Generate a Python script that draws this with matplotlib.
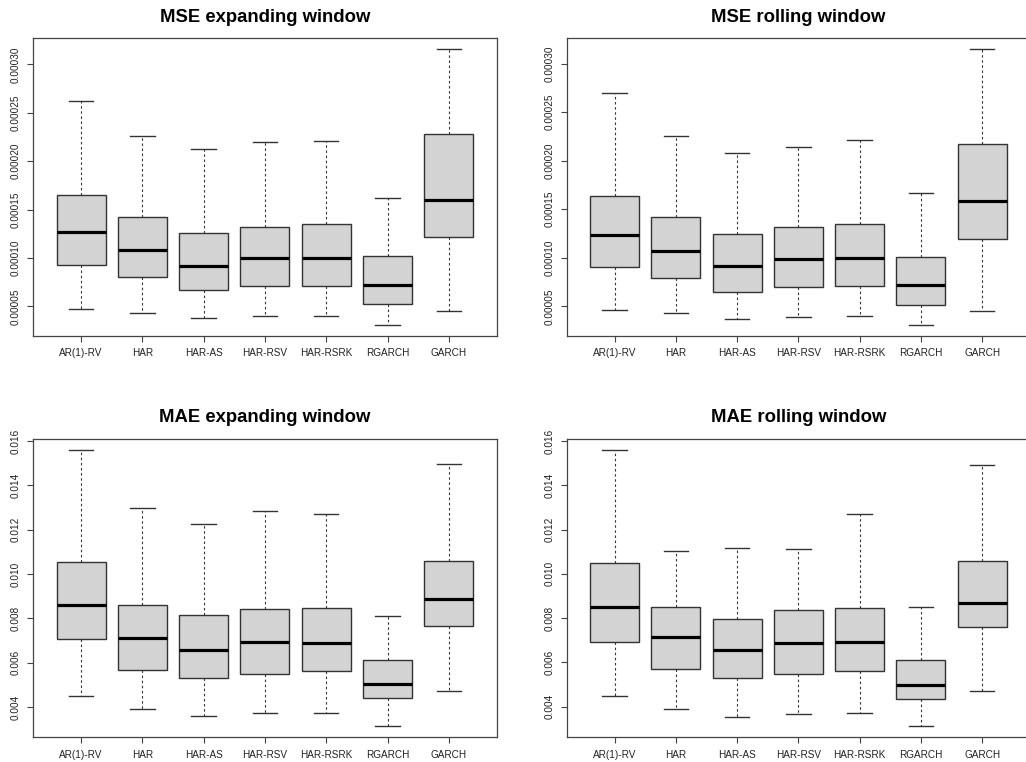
import matplotlib
matplotlib.use("Agg")
import matplotlib.pyplot as plt

plt.rcParams["font.family"] = ["Liberation Sans", "DejaVu Sans"]

models = ["AR(1)-RV", "HAR", "HAR-AS", "HAR-RSV", "HAR-RSRK", "RGARCH", "GARCH"]

# Box statistics per model: lower whisker, Q1, median, Q3, upper whisker
mse_exp_lo  = [0.0000469, 0.0000431, 0.0000380, 0.0000400, 0.0000400, 0.0000307, 0.0000452]
mse_exp_q1  = [0.0000926, 0.0000803, 0.0000669, 0.0000710, 0.0000710, 0.0000524, 0.0001212]
mse_exp_med = [0.0001270, 0.0001080, 0.0000920, 0.0000995, 0.0001000, 0.0000720, 0.0001597]
mse_exp_q3  = [0.0001650, 0.0001420, 0.0001257, 0.0001320, 0.0001350, 0.0001016, 0.0002285]
mse_exp_hi  = [0.0002620, 0.0002260, 0.0002130, 0.0002200, 0.0002210, 0.0001620, 0.0003155]

mse_roll_lo  = [0.0000466, 0.0000431, 0.0000370, 0.0000390, 0.0000397, 0.0000308, 0.0000449]
mse_roll_q1  = [0.0000905, 0.0000795, 0.0000651, 0.0000702, 0.0000709, 0.0000514, 0.0001196]
mse_roll_med = [0.0001234, 0.0001073, 0.0000918, 0.0000984, 0.0001000, 0.0000723, 0.0001587]
mse_roll_q3  = [0.0001635, 0.0001420, 0.0001244, 0.0001316, 0.0001347, 0.0001008, 0.0002177]
mse_roll_hi  = [0.0002700, 0.0002250, 0.0002078, 0.0002140, 0.0002210, 0.0001663, 0.0003147]

mae_exp_lo  = [0.00451, 0.00391, 0.00358, 0.00373, 0.00374, 0.00313, 0.00474]
mae_exp_q1  = [0.00708, 0.00568, 0.00532, 0.00550, 0.00561, 0.00441, 0.00767]
mae_exp_med = [0.00860, 0.00713, 0.00657, 0.00693, 0.00690, 0.00504, 0.00886]
mae_exp_q3  = [0.01054, 0.00862, 0.00817, 0.00844, 0.00847, 0.00612, 0.01059]
mae_exp_hi  = [0.01559, 0.01298, 0.01227, 0.01284, 0.01271, 0.00809, 0.01495]

mae_roll_lo  = [0.00449, 0.00391, 0.00352, 0.00368, 0.00373, 0.00311, 0.00469]
mae_roll_q1  = [0.00693, 0.00568, 0.00529, 0.00549, 0.00561, 0.00434, 0.00758]
mae_roll_med = [0.00848, 0.00713, 0.00656, 0.00687, 0.00690, 0.00496, 0.00867]
mae_roll_q3  = [0.01050, 0.00850, 0.00797, 0.00838, 0.00845, 0.00610, 0.01058]
mae_roll_hi  = [0.01559, 0.01103, 0.01118, 0.01112, 0.01272, 0.00848, 0.01493]

mse_ticks = [0.00005, 0.00010, 0.00015, 0.00020, 0.00025, 0.00030]
mse_tick_labels = ["0.00005", "0.00010", "0.00015", "0.00020", "0.00025", "0.00030"]
mae_ticks = [0.004, 0.006, 0.008, 0.010, 0.012, 0.014, 0.016]
mae_tick_labels = ["0.004", "0.006", "0.008", "0.010", "0.012", "0.014", "0.016"]

panels = [
    ("MSE expanding window", (mse_exp_lo, mse_exp_q1, mse_exp_med, mse_exp_q3, mse_exp_hi), mse_ticks, mse_tick_labels),
    ("MSE rolling window", (mse_roll_lo, mse_roll_q1, mse_roll_med, mse_roll_q3, mse_roll_hi), mse_ticks, mse_tick_labels),
    ("MAE expanding window", (mae_exp_lo, mae_exp_q1, mae_exp_med, mae_exp_q3, mae_exp_hi), mae_ticks, mae_tick_labels),
    ("MAE rolling window", (mae_roll_lo, mae_roll_q1, mae_roll_med, mae_roll_q3, mae_roll_hi), mae_ticks, mae_tick_labels),
]

W, H = 1026, 762
fig = plt.figure(figsize=(W / 100, H / 100), dpi=100)

# Axes rectangles in pixels: left, top, right, bottom
rects = [
    (33.3, 38.3, 496.6, 336.0),
    (566.7, 38.3, 1030.0, 336.0),
    (33.3, 439.0, 496.6, 737.3),
    (566.7, 439.0, 1030.0, 737.3),
]

frame_col = "#444444"
edge_col = "#333333"

for (title, (lo, q1, med, q3, hi), ticks, tlabels), (l, t, r, b) in zip(panels, rects):
    ax = fig.add_axes([l / W, (H - b) / H, (r - l) / W, (b - t) / H])
    stats = [
        {"whislo": a, "q1": c, "med": m, "q3": d, "whishi": e, "fliers": [], "label": name}
        for name, a, c, m, d, e in zip(models, lo, q1, med, q3, hi)
    ]
    ax.bxp(
        stats,
        positions=range(1, len(models) + 1),
        widths=0.8,
        patch_artist=True,
        showfliers=False,
        boxprops=dict(facecolor="#D3D3D3", edgecolor=edge_col, linewidth=1.0),
        medianprops=dict(color="black", linewidth=2.3, solid_capstyle="butt"),
        whiskerprops=dict(color=edge_col, linewidth=0.8, linestyle=(0, (2.2, 2.4))),
        capprops=dict(color=edge_col, linewidth=1.0),
    )
    lo_all, hi_all = min(lo), max(hi)
    pad = 0.04 * (hi_all - lo_all)
    ax.set_ylim(lo_all - pad, hi_all + pad)
    ax.set_xlim(0.22, len(models) + 0.78)
    ax.set_yticks(ticks)
    ax.set_yticklabels(tlabels, rotation=90, va="center")
    ax.set_xticks(range(1, len(models) + 1))
    ax.set_xticklabels(models)
    ax.tick_params(axis="both", labelsize=7.2, length=4, width=0.8,
                   color=frame_col, pad=5, labelcolor="#222222")
    for sp in ax.spines.values():
        sp.set_color(frame_col)
        sp.set_linewidth(0.9)
    ax.set_title(title, fontsize=13.3, fontweight="bold", pad=12)

fig.savefig("out.png", dpi=100)
